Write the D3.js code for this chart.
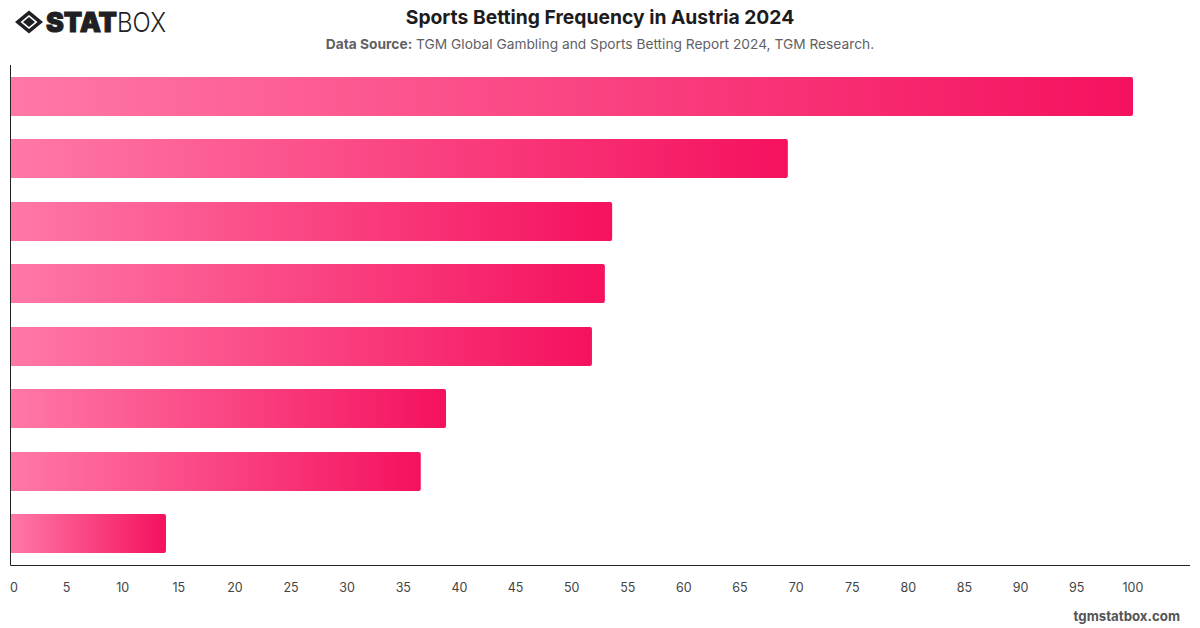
<!DOCTYPE html>
<html>
<head>
<meta charset="utf-8">
<script src="https://cdn.jsdelivr.net/npm/d3@7"></script>
<style>
  html, body { margin: 0; padding: 0; background: #fff; }
  svg { display: block; }
  text { font-family: Inter, "Liberation Sans", sans-serif; }
</style>
</head>
<body>
<svg id="chart" width="1200" height="628"></svg>
<script>
// Share of respondents per betting-frequency group, sorted from largest to smallest.
const barValues = [100, 69.25, 53.6, 52.95, 51.8, 38.8, 36.55, 13.85];
const tickValues = d3.range(0, 101, 5);

const titleText = "Sports Betting Frequency in Austria 2024";
const sourceLabel = "Data Source:";
const sourceText = " TGM Global Gambling and Sports Betting Report 2024, TGM Research.";
const footerText = "tgmstatbox.com";

const svg = d3.select("#chart");
const plot = { left: 10.5, right: 1190, top: 65, bottom: 565.5 };

const x = d3.scaleLinear().domain([0, 100]).range([plot.left, 1133]);
const y = d3.scaleBand().domain(d3.range(barValues.length))
  .range([plot.top, 565]).paddingInner(0.375).paddingOuter(0.1875);

// Each bar carries its own left-to-right gradient.
const defs = svg.append("defs");
const fade = defs.append("linearGradient").attr("id", "barFade")
  .attr("x1", 0).attr("x2", 1).attr("y1", 0).attr("y2", 0);
fade.append("stop").attr("offset", 0).attr("stop-color", "#ff78a7");
fade.append("stop").attr("offset", 1).attr("stop-color", "#f5115f");

// Bars are square at the baseline and slightly rounded at the value end.
svg.append("g").selectAll("path").data(barValues).join("path")
  .attr("fill", "url(#barFade)")
  .attr("d", (d, i) => {
    const x0 = x(0), x1 = x(d), r = 2;
    const top = Math.round(y(i)), bot = top + Math.round(y.bandwidth());
    return `M${x0},${top}H${x1 - r}Q${x1},${top} ${x1},${top + r}V${bot - r}Q${x1},${bot} ${x1 - r},${bot}H${x0}Z`;
  });

// Axis lines
svg.append("line").attr("x1", plot.left).attr("x2", plot.left)
  .attr("y1", plot.top).attr("y2", plot.bottom)
  .attr("stroke", "#222").attr("stroke-width", 1);
svg.append("line").attr("x1", plot.left).attr("x2", plot.right)
  .attr("y1", plot.bottom).attr("y2", plot.bottom)
  .attr("stroke", "#222").attr("stroke-width", 1);

// Tick labels; the first one is nudged so it stays inside the plot edge.
const axis = d3.axisBottom(x).tickValues(tickValues).tickSize(0).tickPadding(0);
const axisG = svg.append("g").attr("transform", `translate(0,${plot.bottom})`).call(axis);
axisG.select(".domain").remove();
axisG.selectAll("text")
  .attr("y", 22).attr("dy", "0.32em")
  .attr("font-size", 12.5).attr("fill", "#444")
  .style("font-family", "Inter, sans-serif")
  .attr("dx", d => d === 0 ? 3 : -0.6);

// Header
svg.append("text").attr("x", 600).attr("y", 23.5).attr("text-anchor", "middle")
  .attr("font-size", 19.3).attr("font-weight", 700).attr("fill", "#1c1c1e").text(titleText);
const sub = svg.append("text").attr("x", 600).attr("y", 49).attr("text-anchor", "middle")
  .attr("font-size", 13.75).attr("fill", "#5f5f66");
sub.append("tspan").attr("font-weight", 700).text(sourceLabel);
sub.append("tspan").text(sourceText);

// Footer
svg.append("text").attr("x", 1180).attr("y", 621).attr("text-anchor", "end")
  .attr("font-size", 13.25).attr("font-weight", 700).attr("fill", "#555").text(footerText);

// Wordmark
const logo = svg.append("g").attr("fill", "#1f1f24");
logo.append("path").attr("fill-rule", "evenodd").attr("d",
  "M29,10.5 L43,22 L29,33.5 L15,22 Z M29,15 L20.5,22 L29,29 L37.5,22 Z");
logo.append("path").attr("d", "M29,17 L35,22 L29,27 L23,22 Z");
logo.append("text").attr("x", 46).attr("y", 32).attr("font-size", 27).attr("font-weight", 900)
  .attr("stroke", "#1f1f24").attr("stroke-width", 1)
  .attr("textLength", 71).attr("lengthAdjust", "spacingAndGlyphs").text("STAT");
logo.append("text").attr("x", 117).attr("y", 32).attr("font-size", 27).attr("font-weight", 300)
  .attr("textLength", 49).attr("lengthAdjust", "spacingAndGlyphs").text("BOX");
</script>
</body>
</html>
